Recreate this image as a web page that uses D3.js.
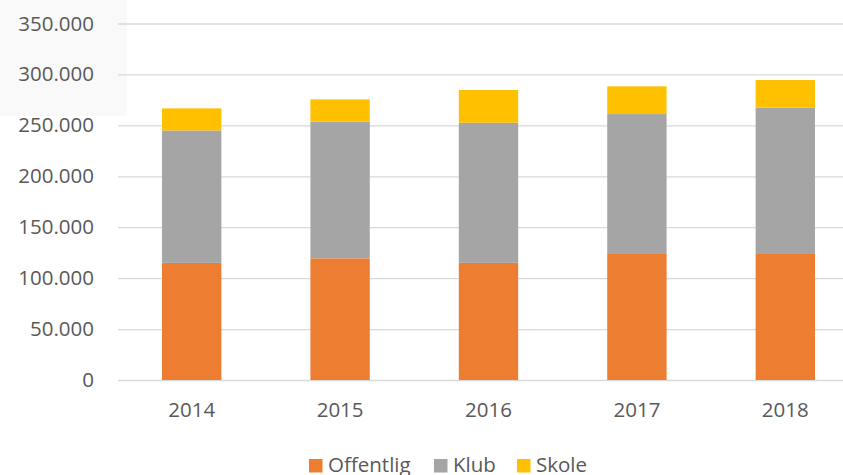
<!DOCTYPE html>
<html>
<head>
<meta charset="utf-8">
<script src="https://cdn.jsdelivr.net/npm/d3@7"></script>
<style>
  body { margin: 0; background: #fff; }
  svg { display: block; font-family: "Open Sans", sans-serif; }
</style>
</head>
<body>
<svg id="chart" width="843" height="475"></svg>
<script>
var years = ["2014", "2015", "2016", "2017", "2018"];
var seriesNames = ["Offentlig", "Klub", "Skole"];
var offentlig = [115000, 119500, 115000, 124500, 124500];
var klub = [130000, 134100, 137600, 136600, 142800];
var skole = [21700, 21950, 32100, 27200, 27200];
var yTicks = [0, 50000, 100000, 150000, 200000, 250000, 300000, 350000];

var colors = { "Offentlig": "#ed7d31", "Klub": "#a5a5a5", "Skole": "#ffc000" };

var rows = years.map(function (y, i) {
  return { year: y, Offentlig: offentlig[i], Klub: klub[i], Skole: skole[i] };
});

var svg = d3.select("#chart");

// faint box behind the top labels
svg.append("rect")
  .attr("x", 0).attr("y", 0)
  .attr("width", 127).attr("height", 116)
  .attr("fill", "#f9f9f9");

var x = d3.scaleBand()
  .domain(years)
  .range([117.5, 859.5])
  .paddingInner(0.6)
  .paddingOuter(0.3);

var y = d3.scaleLinear()
  .domain([0, 350000])
  .range([380, 23.5]);

var dk = d3.formatLocale({ decimal: ",", thousands: ".", grouping: [3], currency: ["", " kr."] });
var fmt = dk.format(",d");

// gridlines + y labels
var yAxis = svg.append("g")
  .attr("transform", "translate(118,0)")
  .call(d3.axisLeft(y).tickValues(yTicks).tickFormat(fmt).tickSize(-725).tickPadding(24));
yAxis.select(".domain").remove();
yAxis.selectAll(".tick line").attr("stroke", "#d9d9d9").attr("stroke-width", 1.3);
yAxis.selectAll(".tick text")
  .attr("fill", "#595959")
  .style("font-size", "20.5px")
  .style("font-family", "'Open Sans', sans-serif");

var stack = d3.stack().keys(seriesNames)(rows);

svg.append("g").selectAll("g")
  .data(stack).enter().append("g")
    .attr("fill", function (d) { return colors[d.key]; })
  .selectAll("rect")
  .data(function (d) { return d; }).enter().append("rect")
    .attr("x", function (d) { return x(d.data.year); })
    .attr("y", function (d) { return y(d[1]); })
    .attr("width", x.bandwidth())
    .attr("height", function (d) { return y(d[0]) - y(d[1]); });

// x labels
var xAxis = svg.append("g")
  .attr("transform", "translate(0,380)")
  .call(d3.axisBottom(x).tickSize(0).tickPadding(22));
xAxis.select(".domain").remove();
xAxis.selectAll(".tick text")
  .attr("fill", "#595959")
  .style("font-size", "20.5px")
  .style("font-family", "'Open Sans', sans-serif");

// legend
var legendX = [309, 434, 517];
var legend = svg.append("g").selectAll("g")
  .data(seriesNames).enter().append("g")
  .attr("transform", function (d, i) { return "translate(" + legendX[i] + ",459)"; });
legend.append("rect")
  .attr("width", 13.5).attr("height", 13.5)
  .attr("fill", function (d) { return colors[d]; });
legend.append("text")
  .attr("x", 19).attr("y", 13)
  .attr("fill", "#595959")
  .style("font-size", "20.5px")
  .text(function (d) { return d; });
</script>
</body>
</html>
